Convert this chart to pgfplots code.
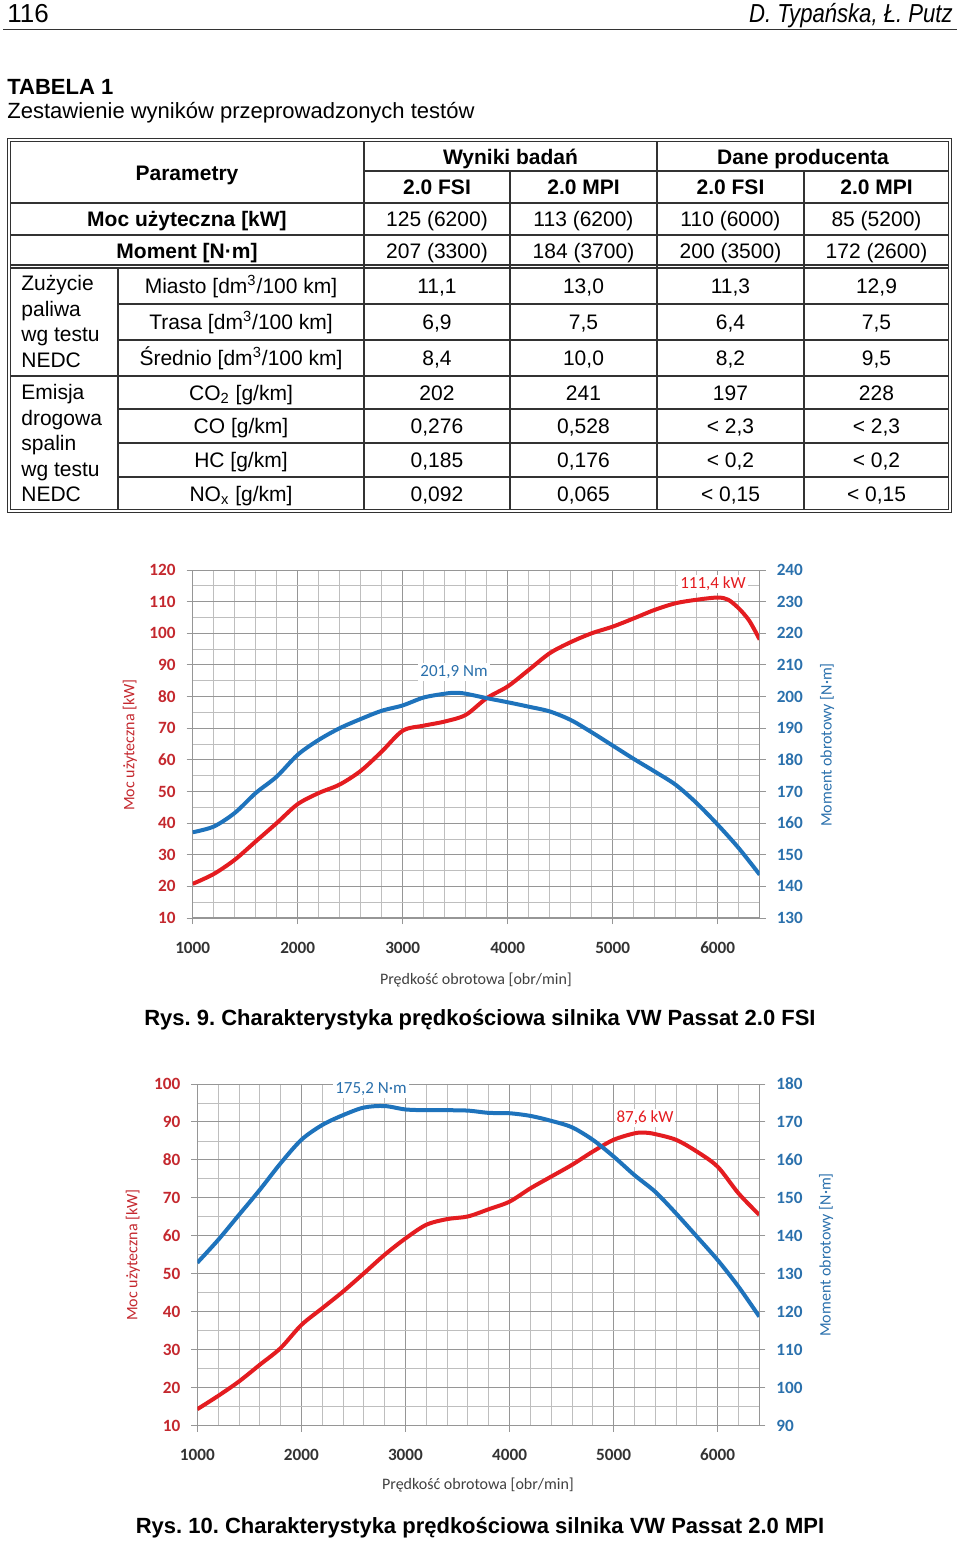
\documentclass[border=0pt]{standalone}
\usepackage{fontspec}
\setmainfont{Liberation Sans}
\newfontfamily\calib{Carlito}
\newfontfamily\narrowf[FakeStretch=0.85]{Liberation Sans}
\usepackage{pgfplots}
\pgfplotsset{compat=1.18}
\frenchspacing
\definecolor{cred}{RGB}{228,28,32}
\definecolor{cblue}{RGB}{30,115,188}
\definecolor{lred}{RGB}{196,40,46}
\definecolor{lblue}{RGB}{42,112,172}
\definecolor{gmaj}{RGB}{150,150,150}
\definecolor{gmin}{RGB}{190,190,190}
\definecolor{tline}{RGB}{50,50,50}
\pgfplotsset{
  engine/.style={scale only axis, xmin=1000, xmax=6400,
    xtick={1000,2000,...,6000}, minor xtick={1200,1400,...,6400},
    grid=both, major grid style={gmaj,line width=0.5pt}, minor grid style={gmin,line width=0.4pt},
    axis line style={gmaj,line width=0.6pt}, tick style={gmaj,line width=0.5pt},
    major tick length=3pt, minor tick length=0pt, tick align=outside,
    /pgf/number format/assume math mode=true, /pgf/number format/1000 sep={},
    ticklabel style={font=\calib\bfseries\fontsize{8.6}{9}\selectfont},
    xticklabel style={text=black!80, yshift=-5pt, text height=6pt, text depth=0pt},
    yticklabel style={text=lred, xshift=-2pt},
    axis x line*=bottom, axis y line*=left},
  engineR/.style={scale only axis, xmin=1000, xmax=6400,
    axis x line=none, axis y line*=right,
    axis line style={gmaj,line width=0.6pt}, tick style={gmaj,line width=0.5pt},
    major tick length=3pt, tick align=outside,
    /pgf/number format/assume math mode=true, /pgf/number format/1000 sep={},
    ticklabel style={font=\calib\bfseries\fontsize{8.6}{9}\selectfont},
    yticklabel style={text=lblue, xshift=2pt}}
}
\begin{document}
\begin{tikzpicture}
\path[use as bounding box] (0,0) rectangle (480pt,-771pt);
% chart 1
\begin{axis}[engine, at={(96.35pt,-459pt)}, anchor=south west, width=283.5pt, height=174pt,
  ymin=10, ymax=120, ytick={10,20,...,120}, minor ytick={15,25,...,115}]
\addplot[cred, line width=2pt, smooth] coordinates {
(1000,20.8)(1200,23.9)(1400,28.4)(1600,34.2)(1800,40)(2000,46)(2200,49.5)(2400,52.2)(2600,56.5)(2800,62.6)(3000,69.2)(3200,70.8)(3400,72.1)(3600,74.2)(3800,79.5)(4000,83.2)(4200,88.4)(4400,93.7)(4600,97.2)(4800,100)(5000,102.1)(5200,104.7)(5400,107.4)(5600,109.5)(5800,110.6)(6000,111.3)(6100,110.6)(6200,107.9)(6300,104)(6400,98)};
\end{axis}
\begin{axis}[engineR, at={(96.35pt,-459pt)}, anchor=south west, width=283.5pt, height=174pt,
  ymin=130, ymax=240, ytick={130,140,...,240}]
\addplot[cblue, line width=2pt, smooth] coordinates {
(1000,157.1)(1200,158.9)(1400,163.2)(1600,169.5)(1800,174.7)(2000,181.6)(2200,186.3)(2400,190)(2600,192.9)(2800,195.5)(3000,197.2)(3200,199.7)(3400,200.9)(3500,201.2)(3600,200.9)(3800,199.5)(4000,198.2)(4200,196.8)(4400,195.3)(4600,192.6)(4800,188.7)(5000,184.5)(5200,180.3)(5400,176.3)(5600,172.1)(5800,166.3)(6000,159.5)(6200,152.1)(6400,143.7)};
\end{axis}
% chart 2
\begin{axis}[engine, at={(98.65pt,-712.75pt)}, anchor=south west, width=281pt, height=170.75pt,
  ymin=10, ymax=100, ytick={10,20,...,100}, minor ytick={15,25,...,95}]
\addplot[cred, line width=2pt, smooth] coordinates {
(1000,14.3)(1200,17.8)(1400,21.6)(1600,26)(1800,30.4)(2000,36.5)(2200,40.9)(2400,45.3)(2600,50.1)(2800,55)(3000,59.3)(3200,62.9)(3400,64.4)(3600,65.1)(3800,67)(4000,69)(4200,72.5)(4400,75.6)(4600,78.7)(4800,82.2)(5000,85.3)(5200,87)(5300,87.2)(5400,86.8)(5600,85.3)(5800,82.2)(6000,78.2)(6200,71.2)(6400,65.5)};
\end{axis}
\begin{axis}[engineR, at={(98.65pt,-712.75pt)}, anchor=south west, width=281pt, height=170.75pt,
  ymin=90, ymax=180, ytick={90,100,...,180}]
\addplot[cblue, line width=2pt, smooth] coordinates {
(1000,132.9)(1200,138.9)(1400,145.5)(1600,152.1)(1800,159.1)(2000,165.3)(2200,169.2)(2400,171.8)(2600,173.8)(2800,174.2)(3000,173.3)(3200,173.1)(3400,173.1)(3600,173)(3800,172.4)(4000,172.3)(4200,171.6)(4400,170.3)(4600,168.6)(4800,165.3)(5000,160.9)(5200,156)(5400,151.6)(5600,145.9)(5800,139.8)(6000,133.6)(6200,126.6)(6400,118.7)};
\end{axis}
\begin{scope}[x=0.5pt,y=-0.5pt]
% header
\node[anchor=base west, inner sep=0pt, font=\fontsize{13}{15}\selectfont] at (7,22) {116};
\node[anchor=base east, inner sep=0pt, font=\narrowf\itshape\fontsize{13}{15}\selectfont] at (953,22) {D. Typańska, Ł. Putz};
\draw[line width=0.8pt, black!80] (3,29.5) -- (957,29.5);
\node[anchor=base west, inner sep=0pt, font=\bfseries\fontsize{11}{13}\selectfont] at (7,94) {TABELA 1};
\node[anchor=base west, inner sep=0pt, font=\fontsize{11}{13}\selectfont] at (7,118) {Zestawienie wyników przeprowadzonych testów};
% table frame
\draw[tline, line width=0.6pt] (7.3,138.5) rectangle (951.7,512.3);
\draw[tline, line width=0.6pt] (10.7,141.7) rectangle (948.3,509.3);
\begin{scope}[tline, line width=0.9pt]
\draw (364,171) -- (948.3,171);
\draw (10.7,203) -- (948.3,203);
\draw (10.7,235) -- (948.3,235);
\draw[line width=0.6pt] (10.7,265) -- (948.3,265);
\draw[line width=0.6pt] (10.7,268) -- (948.3,268);
\draw (118,304) -- (948.3,304);
\draw (118,340) -- (948.3,340);
\draw[line width=1.1pt] (10.7,376) -- (948.3,376);
\draw (118,409) -- (948.3,409);
\draw (118,443) -- (948.3,443);
\draw (118,477) -- (948.3,477);
\draw (118,268) -- (118,509.3);
\draw (364,141.7) -- (364,509.3);
\draw (510,171) -- (510,509.3);
\draw (657,141.7) -- (657,509.3);
\draw (804,171) -- (804,509.3);
\end{scope}
\begin{scope}[every node/.style={inner sep=0pt, anchor=base, font=\fontsize{10.5}{12}\selectfont}]
\node[font=\bfseries\fontsize{10.5}{12}\selectfont] at (187,180) {Parametry};
\node[font=\bfseries\fontsize{10.5}{12}\selectfont] at (510.5,164) {Wyniki badań};
\node[font=\bfseries\fontsize{10.5}{12}\selectfont] at (803,164) {Dane producenta};
\foreach \cx/\t in {437/2.0 FSI, 583.5/2.0 MPI, 730.5/2.0 FSI, 876.5/2.0 MPI}
  \node[font=\bfseries\fontsize{10.5}{12}\selectfont] at (\cx,194.5) {\t};
\node[font=\bfseries\fontsize{10.5}{12}\selectfont] at (187,226.5) {Moc użyteczna [kW]};
\node[font=\bfseries\fontsize{10.5}{12}\selectfont] at (187,258.5) {Moment [N·m]};
\node at (241,293.5) {Miasto [dm\textsuperscript{3}/100 km]};
\node at (241,329.5) {Trasa [dm\textsuperscript{3}/100 km]};
\node at (241,365.5) {Średnio [dm\textsuperscript{3}/100 km]};
\node at (241,400) {CO\textsubscript{2} [g/km]};
\node at (241,433.5) {CO [g/km]};
\node at (241,467.5) {HC [g/km]};
\node at (241,501) {NO\textsubscript{x} [g/km]};
\foreach \y/\a/\b/\c/\d in {226.5/125 (6200)/113 (6200)/110 (6000)/85 (5200),
   258.5/207 (3300)/184 (3700)/200 (3500)/172 (2600),
   293.5/{11,1}/{13,0}/{11,3}/{12,9},
   329.5/{6,9}/{7,5}/{6,4}/{7,5},
   365.5/{8,4}/{10,0}/{8,2}/{9,5},
   400/202/241/197/228,
   433.5/{0,276}/{0,528}/{< 2,3}/{< 2,3},
   467.5/{0,185}/{0,176}/{< 0,2}/{< 0,2},
   501/{0,092}/{0,065}/{< 0,15}/{< 0,15}}{
  \node at (437,\y) {\a};
  \node at (583.5,\y) {\b};
  \node at (730.5,\y) {\c};
  \node at (876.5,\y) {\d};
}
\foreach \y/\t in {290.5/Zużycie, 316.2/paliwa, 341.9/wg testu, 367.6/NEDC,
  399.5/Emisja, 425/drogowa, 450.5/spalin, 476/wg testu, 501.5/NEDC}
  \node[anchor=base west] at (21,\y) {\t};
\end{scope}
% chart texts
\begin{scope}[every node/.style={inner sep=0pt, font=\calib\fontsize{8}{9}\selectfont}]
\node[text=black!75] at (476,980) {Prędkość obrotowa [obr/min]};
\node[text=lred, rotate=90] at (130,745) {Moc użyteczna [kW]};
\node[text=lblue, rotate=90] at (827,745) {Moment obrotowy [N·m]};
\node[text=black!75] at (478,1485) {Prędkość obrotowa [obr/min]};
\node[text=lred, rotate=90] at (133,1255) {Moc użyteczna [kW]};
\node[text=lblue, rotate=90] at (826,1255) {Moment obrotowy [N·m]};
\end{scope}
\begin{scope}[every node/.style={inner sep=1pt, fill=white, font=\calib\fontsize{8.5}{9}\selectfont}]
\node[text=cred] at (713,584) {111,4 kW};
\node[text=lblue] at (454,672) {201,9 Nm};
\node[text=lblue] at (371,1089) {175,2 N·m};
\node[text=cred] at (645,1118) {87,6 kW};
\end{scope}
\node[anchor=base, inner sep=0pt, font=\bfseries\fontsize{11}{13}\selectfont] at (480,1025.5) {Rys. 9. Charakterystyka prędkościowa silnika VW Passat 2.0 FSI};
\node[anchor=base, inner sep=0pt, font=\bfseries\fontsize{11}{13}\selectfont] at (480,1533.5) {Rys. 10. Charakterystyka prędkościowa silnika VW Passat 2.0 MPI};
\end{scope}
\end{tikzpicture}
\end{document}
